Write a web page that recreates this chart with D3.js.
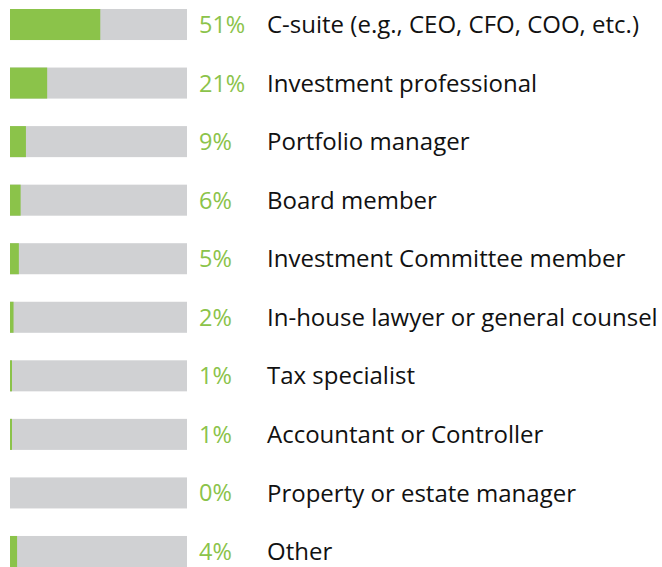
<!DOCTYPE html>
<html lang="en">
  <head>
    <meta charset="utf-8">
    <script src="https://d3js.org/d3.v7.min.js"></script>
    <style>
      body { margin: 0; background: #fff; }
      text { font-family: "Open Sans", sans-serif; }
    </style>
  </head>
  <body>
    <svg id="chart" width="662" height="567"></svg>
    <script>

      var roles = [
            "C-suite (e.g., CEO, CFO, COO, etc.)",
            "Investment professional",
            "Portfolio manager",
            "Board member",
            "Investment Committee member",
            "In-house lawyer or general counsel",
            "Tax specialist",
            "Accountant or Controller",
            "Property or estate manager",
            "Other"
          ],
          shares = [51, 21, 9, 6, 5, 2, 1, 1, 0, 4];

      var rows = roles.map(function(r, i) {
        return {role: r, value: shares[i]};
      });

      var svg = d3.select("#chart"),
          barLeft = 10,
          barWidth = 177;

      var x = d3.scaleLinear()
            .domain([0, 100])
            .range([0, barWidth]);

      var y = d3.scaleBand()
            .domain(roles)
            .range([9, 567])
            .paddingInner(0.47)
            .paddingOuter(0);

      var g = svg.selectAll("g.row")
          .data(rows)
        .enter().append("g")
          .attr("class", "row")
          .attr("transform", function(d) {
            return "translate(0," + y(d.role) + ")";
          });

      g.append("rect")
        .attr("x", barLeft)
        .attr("width", barWidth)
        .attr("height", y.bandwidth())
        .attr("fill", "#d0d1d3");

      g.append("rect")
        .attr("x", barLeft)
        .attr("width", function(d) {
          // tiny values still show a sliver
          return d.value > 0 ? Math.max(x(d.value), 2) : 0;
        })
        .attr("height", y.bandwidth())
        .attr("fill", "#8bc34a");

      g.append("text")
        .attr("x", 199)
        .attr("y", y.bandwidth() / 2)
        .attr("dy", "0.36em")
        .attr("fill", "#8bc34a")
        .style("font-size", "23.5px")
        .text(function(d) { return d.value + "%"; });

      g.append("text")
        .attr("x", 267)
        .attr("y", y.bandwidth() / 2)
        .attr("dy", "0.36em")
        .attr("fill", "#111")
        .style("font-size", "24px")
        .text(function(d) { return d.role; });

    </script>
  </body>
</html>
